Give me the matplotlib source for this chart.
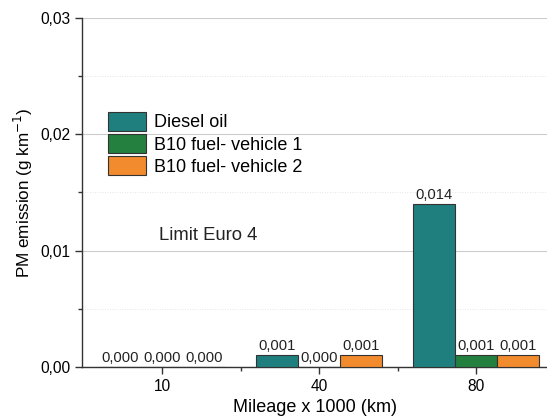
import matplotlib
matplotlib.use("Agg")
import matplotlib.pyplot as plt
import numpy as np
from matplotlib.ticker import MultipleLocator, FixedLocator

plt.rcParams['font.family'] = ['Liberation Sans', 'DejaVu Sans']

categories = ["10", "40", "80"]
series_names = ["Diesel oil", "B10 fuel- vehicle 1", "B10 fuel- vehicle 2"]
diesel = [0.000, 0.001, 0.014]
b10_v1 = [0.000, 0.000, 0.001]
b10_v2 = [0.000, 0.001, 0.001]
colors = ["#1f7f7f", "#23803f", "#f28a2e"]

fig = plt.figure(figsize=(5.47, 4.16), dpi=100)
ax = fig.add_axes([0.150, 0.118, 0.85, 0.839])

x = np.arange(len(categories))
w = 0.267
for i, (vals, name, c) in enumerate(zip([diesel, b10_v1, b10_v2], series_names, colors)):
    pos = x + (i - 1) * w
    ax.bar(pos, vals, width=w, color=c, edgecolor="#333333", linewidth=0.8,
           label=name, zorder=3)
    for p, v in zip(pos, vals):
        ax.text(p, v + 0.0002, f"{v:.3f}".replace(".", ","), ha="center", va="bottom",
                fontsize=10.6, color="#222222", zorder=4)

ax.set_xlim(-0.51, 2.45)
ax.set_ylim(0, 0.03)
ax.set_xticks(x)
ax.set_xticklabels(categories)
ax.xaxis.set_minor_locator(FixedLocator([0.5, 1.5]))
ax.yaxis.set_major_locator(MultipleLocator(0.01))
ax.yaxis.set_minor_locator(MultipleLocator(0.005))
ax.yaxis.set_major_formatter(plt.FuncFormatter(lambda v, p: f"{v:.2f}".replace(".", ",")))

ax.grid(axis="y", which="major", color="#cccccc", linewidth=0.8, zorder=0)
ax.grid(axis="y", which="minor", color="#dddddd", linewidth=0.6, linestyle=(0, (1, 2)), zorder=0)

for s in ["top", "right"]:
    ax.spines[s].set_visible(False)
for s in ["left", "bottom"]:
    ax.spines[s].set_color("#333333")
    ax.spines[s].set_linewidth(1.0)
ax.tick_params(axis="both", which="major", length=5, width=1, color="#333333", labelsize=11.2)
ax.tick_params(axis="both", which="minor", length=3, width=1, color="#333333")

ax.set_ylabel("PM emission (g km$^{-1}$)", fontsize=12.3, labelpad=4)
ax.set_xlabel("Mileage x 1000 (km)", fontsize=13, labelpad=4)

ax.text(0.29, 0.0113, "Limit Euro 4", ha="center", va="center", fontsize=13.3, color="#222222")

leg = ax.legend(loc="upper left", bbox_to_anchor=(0.055, 0.73), frameon=False,
                fontsize=13, handlelength=2.15, handleheight=1.2, handletextpad=0.4,
                labelspacing=0.15, borderaxespad=0, borderpad=0)

fig.savefig("out.png", dpi=100)
